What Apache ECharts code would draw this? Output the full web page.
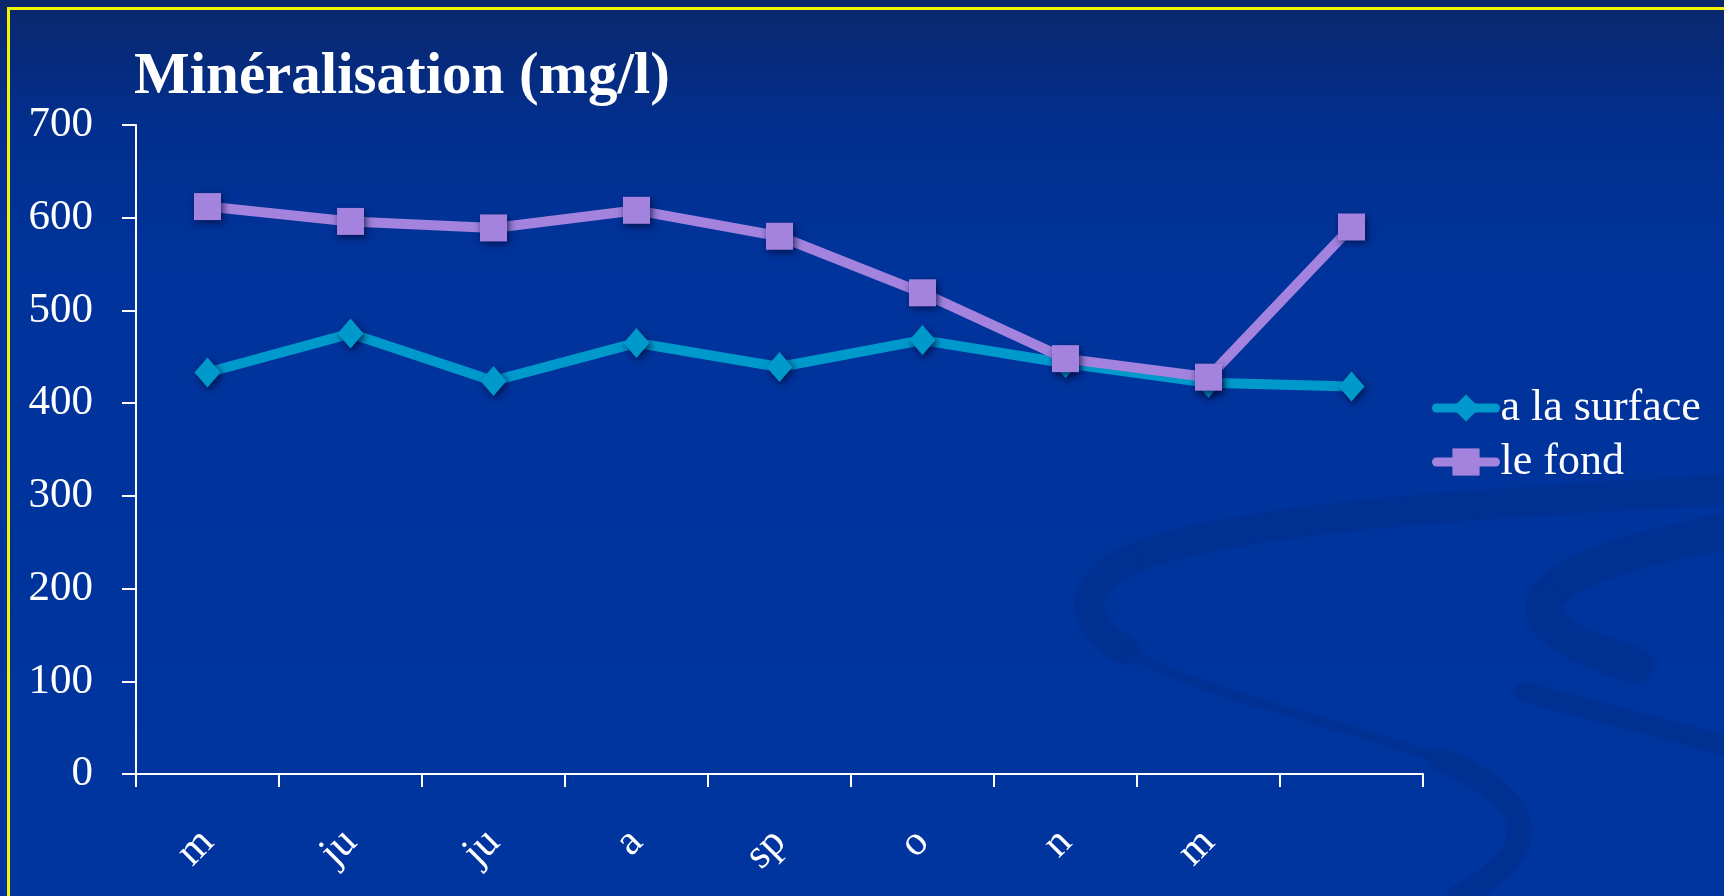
<!DOCTYPE html>
<html>
<head>
<meta charset="utf-8">
<title>Minéralisation (mg/l)</title>
<script src="https://cdn.jsdelivr.net/npm/echarts@6/dist/echarts.min.js"></script>
<style>
  html, body { margin: 0; padding: 0; background: #00339b; }
  #chart { width: 1724px; height: 896px; }
</style>
</head>
<body>
<div id="chart"></div>
<script>
// Sampling periods (abbreviated as printed on the axis)
const categories = ['m', 'ju', 'ju', 'a', 'sp', 'o', 'n', 'm', ''];
// Mineralisation, mg/l
const surfaceValues = [433, 475, 424, 465, 439, 468, 443, 422, 418];
const fondValues = [612, 596, 589, 608, 580, 519, 448, 428, 590];
const seriesNames = ['a la surface', 'le fond'];
const yTicks = { min: 0, max: 700, interval: 100 };

const SERIF = '"Liberation Serif", "DejaVu Serif", serif';
const CYAN = '#0099cc';
const LILAC = '#a383dd';

const chart = echarts.init(document.getElementById('chart'), null, { renderer: 'canvas' });

const markerShadow = {
  shadowColor: 'rgba(0, 12, 60, 0.8)',
  shadowBlur: 7,
  shadowOffsetX: 2,
  shadowOffsetY: 3
};

// Soft swirl decoration in the lower-right of the slide background
// each entry: [x1, y1, cpx1, cpy1, cpx2, cpy2, x2, y2, strokeWidth]
const swirlColor = '#013093';
const swirls = [
  [1724, 490, 1480, 503, 1220, 518, 1125, 562, 30],
  [1125, 562, 1075, 588, 1080, 625, 1125, 650, 30],
  [1125, 650, 1200, 695, 1330, 718, 1440, 760, 9],
  [1440, 760, 1540, 800, 1545, 850, 1460, 896, 24],
  [1724, 532, 1640, 547, 1560, 570, 1545, 600, 36],
  [1545, 600, 1535, 628, 1580, 648, 1635, 665, 36],
  [1525, 692, 1590, 710, 1660, 728, 1724, 745, 20]
];

const option = {
  animation: false,
  backgroundColor: {
    type: 'linear', x: 0, y: 0, x2: 0, y2: 1,
    colorStops: [
      { offset: 0, color: '#0a276c' },
      { offset: 0.14, color: '#022f8e' },
      { offset: 0.3, color: '#00339b' },
      { offset: 1, color: '#00359f' }
    ]
  },
  graphic: [
    ...swirls.map(s => ({
      type: 'bezierCurve',
      silent: true,
      z: -10,
      shape: { x1: s[0], y1: s[1], cpx1: s[2], cpy1: s[3], cpx2: s[4], cpy2: s[5], x2: s[6], y2: s[7] },
      style: { fill: null, stroke: swirlColor, lineWidth: s[8], lineCap: 'round' }
    })),
    {
      type: 'rect',
      silent: true,
      shape: { x: 8.5, y: 8.5, width: 1800, height: 1000 },
      style: { fill: null, stroke: '#f4f400', lineWidth: 3 }
    },
    {
      type: 'text',
      left: 134,
      top: 48,
      style: {
        text: 'Minéralisation (mg/l)',
        font: 'bold 59px ' + SERIF,
        fill: '#ffffff'
      }
    }
  ],
  grid: {
    left: 136,
    right: 301,
    top: 125,
    bottom: 122,
    containLabel: false
  },
  legend: {
    orient: 'vertical',
    left: 1427,
    top: 376,
    itemWidth: 59,
    itemHeight: 34,
    itemGap: 0,
    lineStyle: { width: 9, cap: 'round' },
    textStyle: {
      color: '#ffffff',
      fontFamily: SERIF,
      fontSize: 44,
      lineHeight: 54
    },
    data: seriesNames
  },
  xAxis: {
    type: 'category',
    data: categories,
    boundaryGap: true,
    axisLine: { lineStyle: { color: '#ffffff', width: 2 } },
    axisTick: { show: true, inside: false, length: 13, alignWithLabel: false, lineStyle: { color: '#ffffff', width: 2 } },
    axisLabel: {
      interval: 0,
      rotate: 45,
      margin: 62,
      color: '#ffffff',
      fontFamily: SERIF,
      fontSize: 42
    },
    splitLine: { show: false }
  },
  yAxis: {
    type: 'value',
    min: yTicks.min,
    max: yTicks.max,
    interval: yTicks.interval,
    axisLine: { show: true, lineStyle: { color: '#ffffff', width: 2 } },
    axisTick: { show: true, inside: false, length: 14, lineStyle: { color: '#ffffff', width: 2 } },
    axisLabel: {
      margin: 43,
      color: '#ffffff',
      fontFamily: SERIF,
      fontSize: 43
    },
    splitLine: { show: false }
  },
  series: [
    {
      name: seriesNames[0],
      type: 'line',
      data: surfaceValues,
      symbol: 'diamond',
      symbolSize: [26, 30],
      lineStyle: { color: CYAN, width: 10, cap: 'round' },
      itemStyle: Object.assign({ color: CYAN }, markerShadow),
      z: 2
    },
    {
      name: seriesNames[1],
      type: 'line',
      data: fondValues,
      symbol: 'rect',
      symbolSize: 27,
      lineStyle: { color: LILAC, width: 10, cap: 'round' },
      itemStyle: Object.assign({ color: LILAC }, markerShadow),
      z: 3
    }
  ]
};

chart.setOption(option);
</script>
</body>
</html>
